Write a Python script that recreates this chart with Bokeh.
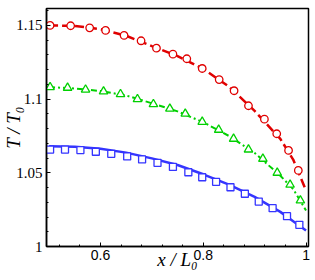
from bokeh.plotting import figure
from bokeh.models import FixedTicker, NumeralTickFormatter, Range1d
from bokeh.embed import file_html
from bokeh.resources import INLINE

# ---- data ----
x_ticks = [0.6, 0.8, 1.0]
x_tick_labels = ["0.6", "0.8", "1"]
x_minor = [0.52, 0.56, 0.64, 0.68, 0.72, 0.76, 0.84, 0.88, 0.92, 0.96]
y_ticks = [1.0, 1.05, 1.1, 1.15]
y_tick_labels = ["1", "1.05", "1.1", "1.15"]
y_minor = [1.01, 1.02, 1.03, 1.04, 1.06, 1.07, 1.08, 1.09,
           1.11, 1.12, 1.13, 1.14, 1.16]
x_title = "x / L\u2080"
y_title = "T / T\u2080"

# curves
line_x = [0.50, 0.55, 0.60, 0.65, 0.70, 0.75, 0.80, 0.85, 0.90, 0.95, 0.975, 1.00]
red_line = [1.1500, 1.1497, 1.1475, 1.1430, 1.1360, 1.1292, 1.1205, 1.1085, 1.0920, 1.0730, 1.0590, 1.0380]
green_line = [1.1082, 1.1072, 1.1055, 1.1025, 1.0972, 1.0917, 1.0843, 1.0750, 1.0635, 1.0480, 1.0390, 1.0244]
blue_line = [1.0681, 1.0677, 1.0663, 1.0637, 1.0598, 1.0553, 1.0490, 1.0420, 1.0337, 1.0235, 1.0172, 1.0109]

# symbols
red_x = [0.502, 0.542, 0.579, 0.610, 0.646, 0.679, 0.709, 0.741, 0.768, 0.798,
         0.831, 0.860, 0.888, 0.919, 0.943, 0.966, 0.985]
red_y = [1.1500, 1.1498, 1.1484, 1.1466, 1.1432, 1.1396, 1.1346, 1.1305, 1.1274, 1.1208,
         1.1133, 1.1057, 1.0955, 1.0864, 1.0765, 1.0652, 1.0516]
green_x = [0.502, 0.536, 0.571, 0.606, 0.639, 0.672, 0.703, 0.735, 0.765, 0.798,
           0.830, 0.859, 0.888, 0.916, 0.944, 0.969, 0.989]
green_y = [1.1081, 1.1077, 1.1064, 1.1052, 1.1034, 1.1000, 1.0966, 1.0935, 1.0901, 1.0846,
           1.0792, 1.0731, 1.0658, 1.0595, 1.0500, 1.0419, 1.0312]
blue_x = [0.502, 0.531, 0.561, 0.591, 0.621, 0.652, 0.681, 0.711, 0.741, 0.771,
          0.798, 0.825, 0.853, 0.881, 0.908, 0.935, 0.963, 0.987]
blue_y = [1.0658, 1.0658, 1.0654, 1.0643, 1.0629, 1.0611, 1.0591, 1.0568, 1.0540, 1.0504,
          1.0470, 1.0439, 1.0402, 1.0358, 1.0305, 1.0260, 1.0206, 1.0147]

RED = "#e00000"
GREEN = "#00d000"
BLUE = "#3535ff"

p = figure(width=315, height=280,
           x_range=Range1d(0.495, 1.0048), y_range=Range1d(1.0, 1.1615),
           output_backend="svg", toolbar_location=None,
           min_border_left=41, min_border_right=7,
           min_border_top=8, min_border_bottom=34)

p.background_fill_color = "white"
p.border_fill_color = "white"
p.outline_line_color = "black"
p.outline_line_width = 1.5
p.grid.visible = False

# axes
p.xaxis.ticker = FixedTicker(ticks=x_ticks, minor_ticks=x_minor)
p.yaxis.ticker = FixedTicker(ticks=y_ticks, minor_ticks=y_minor)
p.xaxis.formatter = NumeralTickFormatter(format="0.[00]")
p.yaxis.formatter = NumeralTickFormatter(format="0.[00]")
p.xaxis.major_label_overrides = dict(zip(x_ticks, x_tick_labels))
p.yaxis.major_label_overrides = dict(zip(y_ticks, y_tick_labels))

for ax in (p.xaxis, p.yaxis):
    ax.axis_line_color = "black"
    ax.axis_line_width = 1.5
    ax.major_tick_in = 4
    ax.major_tick_out = 0
    ax.minor_tick_in = 2
    ax.minor_tick_out = 0
    ax.major_tick_line_color = "black"
    ax.minor_tick_line_color = "black"
    ax.major_tick_line_width = 1
    ax.minor_tick_line_width = 1
    ax.major_label_text_color = "black"
    ax.axis_label_text_font = "Liberation Serif"
    ax.axis_label_text_font_style = "italic"
    ax.axis_label_text_color = "black"

p.xaxis.major_label_text_font = "Liberation Sans"
p.xaxis.major_label_text_font_size = "14px"
p.xaxis.major_label_standoff = 3
p.yaxis.major_label_text_font = "Liberation Serif"
p.yaxis.major_label_text_font_size = "15px"
p.yaxis.major_label_standoff = 4

p.xaxis.axis_label = x_title
p.xaxis.axis_label_text_font_size = "19px"
p.xaxis.axis_label_standoff = -14
p.yaxis.axis_label = y_title
p.yaxis.axis_label_text_font_size = "19px"
p.yaxis.axis_label_standoff = -11

# curves
p.line(line_x, red_line, line_color=RED, line_width=2.5, line_dash="9 4")
p.line(line_x, green_line, line_color=GREEN, line_width=2, line_dash="6 3 2 3")
p.line(line_x, blue_line, line_color=BLUE, line_width=2.5)

# symbols
p.scatter(red_x, red_y, marker="circle", size=7.5, line_color=RED,
          fill_color="white", line_width=1.3)
p.scatter(green_x, green_y, marker="triangle", size=8.5, line_color=GREEN,
          fill_color="white", line_width=1.3)
p.scatter(blue_x, blue_y, marker="square", size=7, line_color=BLUE,
          fill_color="white", line_width=1.3)

open("out.html", "w").write(file_html(p, INLINE))
